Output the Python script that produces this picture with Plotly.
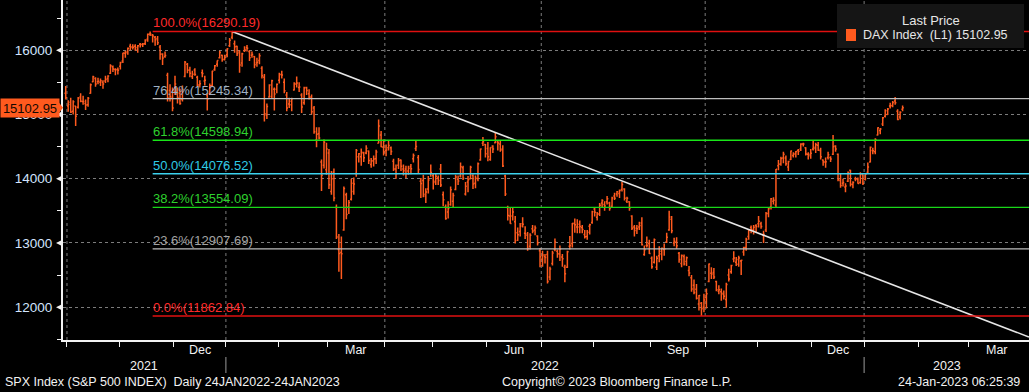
import pandas as pd
import plotly.graph_objects as go

# ---------------- trading calendar (Xetra) ----------------
holidays = ["2021-12-24", "2021-12-31", "2022-04-15", "2022-04-18", "2022-12-26"]
cal = pd.bdate_range("2021-09-30", "2023-04-28")
cal = cal[~cal.isin(pd.to_datetime(holidays))]

# ---------------- DAX daily OHLC (Sep 30 2021 .. Jan 23 2023) ----------------
opens = [
    15330,
    15130, 15190, 15050, 15130, 15110, 15270, 15200, 15170, 15150, 15330, 15510, 15560, 15510, 15500, 15500, 15520, 15560, 15640, 15740, 15700, 15700,
    15750, 15830, 15950, 15980, 16060, 16040, 16060, 16010, 16090, 16090, 16100, 16170, 16250, 16230, 16200, 16180, 16050, 15940, 15900, 15610, 15370, 15250,
    15350, 15350, 15330, 15230, 15590, 15780, 15690, 15590, 15690, 15580, 15460, 15650, 15520, 15300, 15320, 15450, 15700, 15780, 15880, 15920, 15860,
    15930, 16070, 16200, 16100, 16060, 15970, 15800, 15990, 16040, 15980, 15920, 15900, 15800, 15840, 15720, 15580, 14990, 15270, 15280, 15390, 15390,
    15530, 15620, 15500, 15300, 15160, 15150, 15380, 15470, 15420, 15300, 15180, 15420, 15320, 15270, 15100, 14600, 14700, 14260, 14210, 14140,
    14400, 13800, 14100, 13550, 12900, 12850, 13200, 13750, 13560, 13680, 13800, 14080, 14340, 14340, 14400, 14400, 14430, 14220, 14280, 14310, 14550, 14680, 14490,
    14440, 14480, 14480, 14270, 14150, 14210, 14290, 14150, 14150, 14120, 14190, 14310, 14470, 14330, 13960, 13970, 13730, 13840, 14080,
    14050, 13960, 14010, 14150, 13750, 13560, 13480, 13600, 13650, 13830, 13990, 14040, 14170, 13760, 13950, 14000, 14050, 13930, 14000, 14290, 14550, 14530,
    14470, 14300, 14510, 14560, 14570, 14540, 14460, 14040, 13550, 13420, 13420, 13330, 13160, 13180, 13300, 13150, 13120, 12950, 13220, 13200, 13110, 12880,
    12750, 12790, 12820, 12470, 12680, 12900, 12870, 12830, 12780, 12620, 12620, 12950, 12990, 13300, 13250, 13290, 13240, 13130, 13100, 13260, 13320,
    13530, 13400, 13450, 13620, 13600, 13640, 13620, 13570, 13730, 13760, 13770, 13830, 13840, 13650, 13640, 13420, 13250, 13230, 13250, 13310, 12820, 12960, 12990,
    12760, 12700, 12620, 12800, 12830, 12900, 13020, 13200, 13370, 13000, 13010, 12840, 12680, 12790, 12710, 12570, 12460, 12340, 12280, 12050, 12060, 12000,
    12150, 12400, 12530, 12540, 12400, 12250, 12240, 12200, 12120, 12500, 12550, 12750, 12700, 12670, 12720, 12860, 12930, 13100, 13240, 13200, 13270,
    13300, 13300, 13120, 13200, 13460, 13560, 13650, 13590, 14200, 14230, 14320, 14320, 14180, 14300, 14360, 14390, 14440, 14460, 14540, 14480, 14380, 14380,
    14460, 14470, 14520, 14440, 14290, 14260, 14330, 14330, 14380, 14510, 14380, 13970, 13930, 13870, 13960, 14130, 13910, 14000, 13990, 13940, 14060,
    13990, 14100, 14260, 14440, 14420, 14680, 14750, 14850, 14970, 15000, 15130, 15140, 15210, 15050, 14960, 15080,
]
highs = [
    15440,
    15220, 15260, 15220, 15130, 15270, 15330, 15290, 15230, 15270, 15480, 15600, 15580, 15570, 15560, 15530, 15600, 15610, 15780, 15760, 15720, 15730,
    15820, 15960, 15990, 16040, 16100, 16090, 16090, 16080, 16110, 16110, 16170, 16260, 16290, 16250, 16220, 16220, 16080, 15950, 15980, 15650, 15470, 15420,
    15600, 15420, 15400, 15450, 15830, 15800, 15740, 15680, 15720, 15600, 15530, 15700, 15600, 15330, 15480, 15680, 15770, 15840, 15990, 15930, 15930,
    16030, 16190, 16290.19, 16150, 16070, 16000, 15960, 16060, 16080, 16000, 15980, 15910, 15880, 15950, 15750, 15630, 15170, 15470, 15540, 15420, 15480,
    15650, 15680, 15560, 15350, 15260, 15260, 15500, 15590, 15500, 15330, 15430, 15430, 15390, 15310, 15130, 14800, 14800, 14300, 14610, 14560,
    14460, 14120, 14160, 13600, 13140, 13100, 13880, 13780, 13670, 14000, 14020, 14460, 14400, 14470, 14420, 14520, 14440, 14320, 14360, 14450, 14920, 14740, 14610,
    14530, 14590, 14500, 14310, 14220, 14320, 14300, 14220, 14200, 14200, 14230, 14390, 14600, 14370, 14010, 14060, 13850, 14040, 14220,
    14090, 14080, 14050, 14230, 13800, 13600, 13650, 13880, 13780, 14060, 14050, 14250, 14200, 13950, 14040, 14200, 14070, 14050, 14250, 14470, 14650, 14540,
    14570, 14490, 14520, 14710, 14600, 14600, 14520, 14060, 13580, 13560, 13550, 13420, 13240, 13310, 13400, 13260, 13170, 13150, 13280, 13270, 13120, 12920,
    12880, 12830, 12880, 12630, 12880, 13070, 12900, 12960, 12830, 12660, 12880, 13110, 13310, 13380, 13370, 13350, 13280, 13200, 13200, 13300, 13500,
    13560, 13480, 13620, 13680, 13650, 13730, 13640, 13720, 13780, 13810, 13830, 13950, 13850, 13720, 13650, 13430, 13280, 13280, 13330, 13400, 12960, 13100, 13050,
    12790, 13070, 12800, 12950, 12930, 12990, 13160, 13500, 13420, 13080, 13090, 12860, 12820, 12820, 12790, 12640, 12500, 12430, 12360, 12190, 12080, 12210,
    12290, 12680, 12620, 12610, 12410, 12340, 12290, 12260, 12380, 12600, 12660, 12870, 12780, 12800, 12740, 12940, 13080, 13210, 13270, 13280, 13290,
    13420, 13330, 13190, 13480, 13560, 13700, 13710, 14150, 14290, 14340, 14420, 14360, 14280, 14440, 14410, 14430, 14460, 14550, 14560, 14490, 14410, 14460,
    14590, 14560, 14570, 14480, 14300, 14330, 14420, 14350, 14680, 14520, 14390, 14080, 14000, 13930, 14110, 14140, 13960, 14030, 14020, 14100, 14070,
    14080, 14250, 14500, 14480, 14630, 14800, 14790, 14960, 15080, 15100, 15180, 15210, 15270, 15080, 15050, 15140,
]
lows = [
    15230,
    15040, 15020, 15000, 14820, 15090, 15190, 15150, 15070, 15120, 15320, 15500, 15430, 15470, 15440, 15400, 15490, 15500, 15630, 15660, 15610, 15620,
    15700, 15800, 15880, 15930, 16000, 16010, 15990, 15960, 16040, 16050, 16080, 16130, 16220, 16120, 16070, 16080, 15850, 15770, 15880, 15200, 15200, 15050,
    15300, 15170, 15150, 15200, 15580, 15640, 15580, 15550, 15600, 15430, 15420, 15580, 15450, 15060, 15300, 15430, 15680, 15740, 15870, 15820, 15840,
    15890, 16050, 16170, 15960, 15910, 15650, 15740, 15970, 15980, 15830, 15880, 15720, 15740, 15780, 15560, 14890, 14930, 15260, 15250, 15060, 15330,
    15480, 15560, 15330, 15050, 15100, 15050, 15370, 15420, 15350, 15020, 15150, 15300, 15230, 15000, 14700, 14490, 14610, 13810, 14160, 14060,
    13840, 13750, 13650, 13060, 12550, 12440, 13190, 13370, 13450, 13660, 13750, 14030, 14250, 14200, 14260, 14380, 14230, 14170, 14190, 14230, 14550, 14490, 14360,
    14350, 14440, 14370, 14120, 14000, 14150, 14120, 14050, 14010, 14060, 14070, 14250, 14430, 14080, 13700, 13710, 13620, 13770, 14030,
    13830, 13900, 13900, 13870, 13570, 13360, 13380, 13580, 13550, 13820, 13900, 14020, 13980, 13740, 13790, 13990, 13840, 13850, 13960, 14280, 14510, 14330,
    14270, 14280, 14400, 14550, 14440, 14420, 14180, 13730, 13350, 13300, 13350, 12990, 13030, 13100, 13240, 13060, 12880, 12900, 13150, 13120, 12960, 12620,
    12630, 12680, 12370, 12420, 12650, 12870, 12770, 12720, 12630, 12390, 12610, 12900, 12930, 13160, 13150, 13150, 13150, 13070, 13050, 13130, 13300,
    13410, 13350, 13420, 13550, 13500, 13600, 13500, 13560, 13670, 13720, 13700, 13800, 13660, 13620, 13500, 13200, 13100, 13140, 13200, 12960, 12800, 12930, 12830,
    12600, 12680, 12580, 12700, 12730, 12800, 13000, 13190, 13150, 12950, 12910, 12690, 12620, 12650, 12640, 12480, 12240, 12200, 12120, 11950, 11862.84, 11920,
    11980, 12390, 12440, 12440, 12250, 12200, 12100, 12120, 11990, 12400, 12520, 12700, 12640, 12630, 12500, 12800, 12880, 13050, 13150, 13130, 13170,
    13240, 13220, 13000, 13170, 13400, 13520, 13600, 13560, 14130, 14200, 14240, 14200, 14120, 14290, 14330, 14330, 14370, 14430, 14500, 14360, 14300, 14310,
    14440, 14400, 14430, 14300, 14200, 14170, 14300, 14260, 14370, 14420, 13960, 13860, 13880, 13790, 13950, 13880, 13850, 13960, 13920, 13920, 13900,
    13970, 14080, 14250, 14380, 14380, 14670, 14690, 14820, 14950, 14990, 15090, 15110, 15150, 14910, 14920, 15050,
]
closes = [
    15260,
    15156, 15036, 15195, 14973, 15250, 15206, 15200, 15147, 15250, 15463, 15587, 15474, 15516, 15523, 15472, 15543, 15599, 15757, 15705, 15696, 15688,
    15806, 15954, 15959, 16029, 16054, 16046, 16040, 16067, 16083, 16094, 16148, 16247, 16251, 16221, 16160, 16115, 15937, 15878, 15917, 15257, 15280, 15100,
    15472, 15263, 15170, 15386, 15813, 15687, 15639, 15623, 15621, 15453, 15476, 15636, 15531, 15239, 15447, 15676, 15756, 15838, 15963, 15852, 15885,
    16020, 16152, 16271, 16052, 15948, 15768, 15942, 16010, 16031, 15883, 15933, 15772, 15810, 15912, 15603, 15011, 15123, 15459, 15525, 15318, 15471,
    15619, 15613, 15368, 15100, 15206, 15242, 15482, 15490, 15425, 15114, 15412, 15370, 15267, 15042, 14731, 14693, 14631, 14052, 14567, 14461,
    13905, 14000, 13698, 13094, 12835, 12832, 13847, 13442, 13628, 13929, 13917, 14440, 14388, 14413, 14326, 14473, 14283, 14274, 14306, 14417, 14820, 14498, 14415,
    14446, 14518, 14424, 14152, 14078, 14284, 14193, 14124, 14077, 14163, 14153, 14362, 14502, 14142, 13924, 13757, 13794, 13979, 14098,
    13939, 14039, 13971, 13903, 13674, 13381, 13535, 13829, 13740, 14027, 13964, 14186, 14008, 13882, 13982, 14176, 13919, 14008, 14231, 14462, 14576, 14388,
    14340, 14485, 14460, 14653, 14556, 14445, 14199, 13762, 13427, 13304, 13483, 13038, 13126, 13265, 13292, 13144, 12912, 13118, 13186, 13231, 13003, 12784,
    12813, 12773, 12401, 12595, 12843, 13015, 12833, 12905, 12756, 12520, 12865, 12960, 13308, 13282, 13247, 13254, 13211, 13097, 13166, 13282, 13484,
    13479, 13449, 13587, 13662, 13574, 13687, 13535, 13700, 13694, 13795, 13816, 13910, 13697, 13697, 13544, 13230, 13194, 13220, 13271, 12971, 12893, 12961, 12834,
    12631, 13050, 12761, 12872, 12916, 12905, 13088, 13403, 13189, 13028, 12957, 12741, 12803, 12671, 12768, 12532, 12285, 12228, 12140, 12183, 11976, 12114,
    12209, 12671, 12517, 12470, 12273, 12272, 12219, 12172, 12355, 12438, 12649, 12765, 12741, 12767, 12731, 12931, 13052, 13195, 13211, 13243, 13254,
    13339, 13257, 13130, 13460, 13533, 13688, 13666, 14146, 14225, 14314, 14379, 14234, 14267, 14432, 14380, 14422, 14428, 14540, 14541, 14383, 14355, 14397,
    14490, 14529, 14448, 14343, 14261, 14264, 14371, 14306, 14498, 14461, 13987, 13894, 13942, 13885, 14098, 13914, 13941, 13995, 13926, 14071, 13924,
    14069, 14181, 14490, 14436, 14610, 14792, 14774, 14948, 15058, 15086, 15134, 15187, 15181, 14920, 15033, 15102.95,
]

# ---------------- studies ----------------
fib_high = 16290.19
fib_low = 11862.84
fib_ratios = [1.0, 0.764, 0.618, 0.5, 0.382, 0.236, 0.0]
fib_line_colors = ["#e01010", "#bdbdbd", "#19e619", "#3cd2ee", "#19d619", "#bdbdbd", "#e01010"]
fib_text_colors = ["#ff2a2a", "#9fb0c2", "#2ed12e", "#2fcbe6", "#2ed12e", "#a3a3a3", "#ff2a2a"]
fib_start_date = "2021-11-18"

trend_dates = ["2022-01-05", "2022-06-06"]
trend_values = [16290.19, 14720.0]

y_ticks = [12000, 13000, 14000, 15000, 16000]
y_minor = [11500, 12500, 13500, 14500, 15500, 16500]
month_names = {12: "Dec", 3: "Mar", 6: "Jun", 9: "Sep"}
last_price = closes[-1]

# ---------------- geometry ----------------
W, H = 1029, 392
ML, MB = 63, 52
PW, PH = W - ML, H - MB
X_LEFT, X_RIGHT = -1.1, 387.9
Y_MIN, Y_MAX = 11490, 16780


def xp(px):
    return (px - ML) / PW


def yp(py):
    return 1 - py / PH


units_per_px = (Y_MAX - Y_MIN) / PH
n = min(len(opens), len(highs), len(lows), len(closes))
xs = list(range(n))
pos = {d.strftime("%Y-%m-%d"): i for i, d in enumerate(cal)}

BAR = "#ff5a1e"
WHITE = "#f2f2f2"
GRID = "#7c7c7c"
FONT = "Liberation Sans, Arial, sans-serif"

fig = go.Figure()
fig.add_trace(go.Ohlc(
    x=xs, open=opens[:n], high=highs[:n], low=lows[:n], close=closes[:n],
    increasing=dict(line=dict(color=BAR, width=1.5)),
    decreasing=dict(line=dict(color=BAR, width=1.5)),
    tickwidth=0.5, showlegend=False, hoverinfo="skip",
))

# trend line from the Jan 2022 high through the June high to the right edge
ta, tb = pos[trend_dates[0]], pos[trend_dates[1]]
slope = (trend_values[1] - trend_values[0]) / (tb - ta)
fig.add_trace(go.Scatter(
    x=[ta, X_RIGHT], y=[trend_values[0], trend_values[0] + slope * (X_RIGHT - ta)],
    mode="lines", line=dict(color="#e6e6e6", width=1.6), showlegend=False, hoverinfo="skip",
))

shapes = []
annotations = []

# month boundaries
all_b = [(i - 0.5, cal[i]) for i in range(1, len(cal)) if cal[i].month != cal[i - 1].month]
bounds = [b for b in all_b if b[0] < X_RIGHT - 2]
month_ticks = [b for b, d in bounds]
quarter_b = [b for b, d in bounds if d.month in (1, 4, 7, 10)]
year_b = [(b, d.year) for b, d in bounds if d.month == 1]

for b in quarter_b:
    shapes.append(dict(type="line", xref="x", yref="paper", x0=b, x1=b, y0=0, y1=1,
                       line=dict(color=GRID, width=1, dash="3px,3px"), layer="below"))

# month labels (centred in the month)
for k in range(len(all_b) - 1):
    b0, d0 = all_b[k]
    b1, _ = all_b[k + 1]
    c = (b0 + b1) / 2
    if d0.month in month_names and c < X_RIGHT:
        annotations.append(dict(x=c, y=yp(350), xref="x", yref="paper", text=month_names[d0.month],
                                showarrow=False, font=dict(family=FONT, size=12.5, color=WHITE),
                                xanchor="center", yanchor="middle"))

# year labels + separators
edges = [X_LEFT] + [b for b, _ in year_b] + [X_RIGHT]
years = [year_b[0][1] - 1] + [y for _, y in year_b]
for k, yr in enumerate(years):
    c = (edges[k] + edges[k + 1]) / 2
    annotations.append(dict(x=c, y=yp(366), xref="x", yref="paper", text=str(yr), showarrow=False,
                            font=dict(family=FONT, size=12.5, color=WHITE), xanchor="center", yanchor="middle"))
for b, _ in year_b:
    shapes.append(dict(type="line", xref="x", yref="paper", x0=b, x1=b, y0=yp(357), y1=yp(373),
                       line=dict(color="#9a9a9a", width=1)))

# fibonacci retracement
fs = pos[fib_start_date]
for r, lc, tc in zip(fib_ratios, fib_line_colors, fib_text_colors):
    lvl = fib_low + r * (fib_high - fib_low)
    shapes.append(dict(type="line", xref="x", yref="y", x0=fs, x1=X_RIGHT, y0=lvl, y1=lvl,
                       line=dict(color=lc, width=1.4)))
    annotations.append(dict(x=fs, y=lvl, xref="x", yref="y", text=f"{r * 100:.1f}%({lvl + 1e-6:.2f})",
                            showarrow=False, xanchor="left", yanchor="bottom", xshift=-2, yshift=-1,
                            font=dict(family=FONT, size=13, color=tc)))

# y-axis triangles at major ticks
dy = 3 * units_per_px
for v in y_ticks:
    shapes.append(dict(type="path", xref="paper", yref="y",
                       path=f"M {xp(56)},{v} L {xp(62)},{v + dy} L {xp(62)},{v - dy} Z",
                       fillcolor=WHITE, line=dict(width=0)))

# last price tag
hh = 9 * units_per_px
shapes.append(dict(type="path", xref="paper", yref="y",
                   path=f"M {xp(56)},{last_price + hh} L {xp(63)},{last_price} L {xp(56)},{last_price - hh} Z",
                   fillcolor=BAR, line=dict(width=0)))
annotations.append(dict(x=xp(0), y=last_price, xref="paper", yref="y", text=f"{last_price:.2f}",
                        showarrow=False, xanchor="left", yanchor="middle", width=56, height=16,
                        bgcolor=BAR, borderpad=1, align="center",
                        font=dict(family=FONT, size=13, color="#140800")))

# legend box
shapes.append(dict(type="rect", xref="paper", yref="paper", x0=xp(837), x1=xp(1024), y0=yp(48), y1=yp(4),
                   fillcolor="#151515", line=dict(width=0)))
shapes.append(dict(type="rect", xref="paper", yref="paper", x0=xp(846), x1=xp(856), y0=yp(41), y1=yp(29),
                   fillcolor=BAR, line=dict(width=0)))
annotations.append(dict(x=xp(931), y=yp(20), xref="paper", yref="paper", text="Last Price", showarrow=False,
                        xanchor="center", yanchor="middle", font=dict(family=FONT, size=13, color="#e6e6e6")))
annotations.append(dict(x=xp(861), y=yp(35), xref="paper", yref="paper",
                        text=f"DAX Index\u00a0\u00a0(L1)\u00a0{last_price:.2f}", showarrow=False,
                        xanchor="left", yanchor="middle", font=dict(family=FONT, size=12.5, color="#e6e6e6")))

# footer
annotations.append(dict(x=xp(3), y=yp(382), xref="paper", yref="paper",
                        text="SPX Index (S&P 500 INDEX)\u00a0\u00a0Daily 24JAN2022-24JAN2023", showarrow=False,
                        xanchor="left", yanchor="middle", font=dict(family=FONT, size=12.5, color=WHITE)))
annotations.append(dict(x=xp(500), y=yp(382), xref="paper", yref="paper",
                        text="Copyright\u00a9 2023 Bloomberg Finance L.P.", showarrow=False,
                        xanchor="left", yanchor="middle", font=dict(family=FONT, size=12.5, color=WHITE)))
annotations.append(dict(x=xp(1022), y=yp(382), xref="paper", yref="paper",
                        text="24-Jan-2023 06:25:39", showarrow=False,
                        xanchor="right", yanchor="middle", font=dict(family=FONT, size=12.5, color=WHITE)))

fig.update_layout(
    width=W, height=H,
    margin=dict(l=ML, r=0, t=0, b=MB, pad=0),
    paper_bgcolor="#000000", plot_bgcolor="#000000",
    showlegend=False,
    shapes=shapes, annotations=annotations,
    xaxis=dict(range=[X_LEFT, X_RIGHT], rangeslider=dict(visible=False), showgrid=False, zeroline=False,
               tickmode="array", tickvals=month_ticks, ticks="outside", ticklen=5, tickwidth=1,
               tickcolor=WHITE, showticklabels=False, showline=True, linecolor=WHITE, linewidth=2,
               fixedrange=True),
    yaxis=dict(range=[Y_MIN, Y_MAX], tickmode="array", tickvals=y_ticks, ticktext=[str(v) for v in y_ticks],
               ticks="outside", ticklen=6, tickcolor="rgba(0,0,0,0)", showgrid=True, gridcolor=GRID,
               griddash="3px,3px", gridwidth=1, zeroline=False, showline=True, linecolor=WHITE, linewidth=2,
               tickfont=dict(family=FONT, size=13.5, color="#d3e5ff"),
               minor=dict(tickmode="array", tickvals=y_minor, ticks="outside", ticklen=4,
                          tickcolor=WHITE, showgrid=False),
               fixedrange=True),
)

fig.write_html(
    "out.html",
    config={"displayModeBar": False},
    post_script="document.body.style.margin='0px';document.body.style.overflow='hidden';",
)
